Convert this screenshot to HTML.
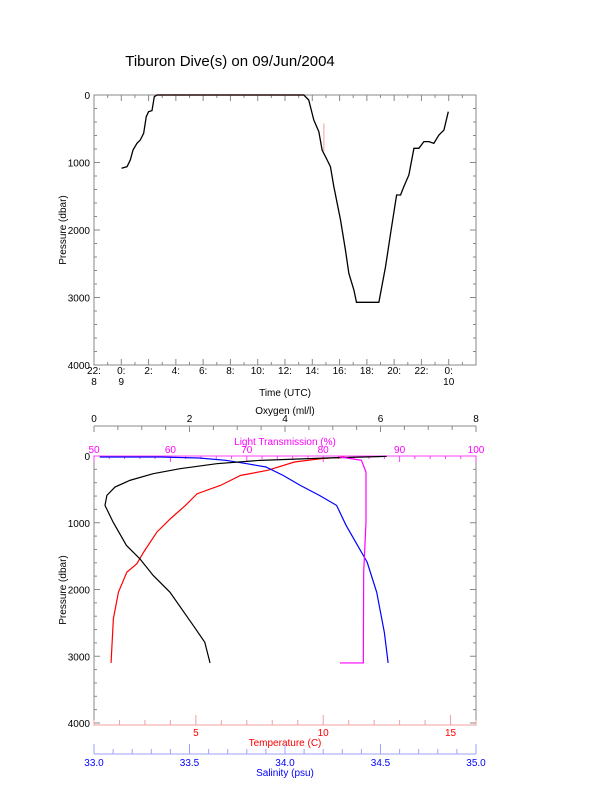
<!DOCTYPE html>
<html><head><meta charset="utf-8"><style>
body{margin:0;background:#fff}
svg text{font-family:"Liberation Sans",sans-serif}
</style></head><body>
<svg id="c" width="612" height="785" xmlns="http://www.w3.org/2000/svg">
<text x="230" y="66" font-size="15" text-anchor="middle">Tiburon Dive(s) on 09/Jun/2004</text>
</svg>
<script>
// ---- data: dive time series (hours since 09 Jun 00:00 UTC, pressure dbar)
const diveHours=[0.02,0.42,0.66,0.86,1.15,1.39,1.64,1.83,2.0,2.25,2.42,2.62,13.38,13.74,14.11,14.48,14.72,15.09,15.33,15.58,16.07,16.43,16.68,17.05,17.24,18.88,19.37,19.74,20.18,20.47,20.71,21.08,21.45,21.81,22.18,22.55,22.91,23.28,23.65,23.97];
const divePressure=[1086,1062,963,815,716,667,568,321,247,232,25,0,0,74,370,543,815,963,1062,1358,1852,2296,2642,2889,3071,3071,2543,2049,1481,1481,1358,1185,790,790,691,691,716,593,519,247];
const timeTickHours=[-2,0,2,4,6,8,10,12,14,16,18,20,22,24];
const timeTickLabels=["22:","0:","2:","4:","6:","8:","10:","12:","14:","16:","18:","20:","22:","0:"];
const timeTickDays=["8","9","","","","","","","","","","","","10"];
const pressureTicks=[0,1000,2000,3000,4000];
// ---- profile data
const tempP=[3100,2440,2040,1740,1615,1440,1140,940,740,565,440,290,215,90,40,15];
const tempV=[1.67,1.76,1.96,2.29,2.68,2.95,3.47,4.0,4.59,5.05,5.97,6.76,7.82,8.87,9.92,10.84];
const salP=[3100,2640,2040,1590,1340,1040,740,590,440,290,165,115,65,30,15,15];
const salV=[34.54,34.52,34.48,34.43,34.38,34.32,34.27,34.18,34.08,33.99,33.90,33.80,33.69,33.55,33.35,33.03];
const oxyP=[3100,2790,2540,2040,1790,1540,1340,990,740,590,465,365,265,190,115,65,30,5];
const oxyV=[2.43,2.32,2.08,1.59,1.24,0.96,0.68,0.40,0.23,0.27,0.44,0.75,1.24,1.80,2.57,3.48,4.87,6.13];
const lightP=[3100,3100,1740,990,240,65,15];
const lightV=[82.2,85.25,85.3,85.6,85.6,85.0,82.2];
const oxyTicks=[0,2,4,6,8];
const lightTicks=[50,60,70,80,90,100];
const tempTicks=[5,10,15];
const salTicks=[33.0,33.5,34.0,34.5,35.0];

const svg=document.getElementById('c');
const NS="http://www.w3.org/2000/svg";
function el(tag,attrs,parent){const e=document.createElementNS(NS,tag);for(const k in attrs)e.setAttribute(k,attrs[k]);(parent||svg).appendChild(e);return e;}
function txt(x,y,s,size,color,anchor,parent){const t=el('text',{x:x,y:y,'font-size':size,fill:color,'text-anchor':anchor||'middle'},parent);t.textContent=s;return t;}

const L=94,R=476;
// ---------- top chart
const T0=95,T1=365;
const xT=h=>L+(h+2)*(R-L)/28;
const yT=p=>T0+p*(T1-T0)/4000;
const topPanel=el('g',{});


const f1=el('rect',{x:L,y:T0,width:R-L,height:T1-T0,fill:'none',stroke:'#888','stroke-width':1},topPanel);


for(let p=0;p<=4000;p+=200){const len=p%1000===0?6:3;el('line',{x1:L,x2:L+len,y1:yT(p),y2:yT(p),stroke:'#888'},topPanel);el('line',{x1:R,x2:R-len,y1:yT(p),y2:yT(p),stroke:'#888'},topPanel);}
pressureTicks.forEach(p=>{const t=txt(L-4,yT(p)+4,String(p),10,'#000','end',topPanel);});
for(let h=-2;h<=26;h+=1){const len=h%2===0?6:3;el('line',{x1:xT(h),x2:xT(h),y1:T1,y2:T1-len,stroke:'#888'},topPanel);el('line',{x1:xT(h),x2:xT(h),y1:T0,y2:T0+len,stroke:'#888'},topPanel);}
timeTickHours.forEach((h,i)=>{const t=txt(xT(h),374,timeTickLabels[i],10,'#000','middle',topPanel);if(timeTickDays[i]){const d=txt(xT(h),385,timeTickDays[i],10,'#000','middle',topPanel);}});
const xt1=txt(285,396,'Time (UTC)',10,'#000','middle',topPanel);


const yt1=txt(0,0,'Pressure (dbar)',10,'#000','middle',topPanel);
yt1.setAttribute('transform','translate(66,230) rotate(-90)');


const surf=el('line',{x1:xT(2.62),x2:xT(13.38),y1:yT(0),y2:yT(0),stroke:'#f08080','stroke-width':1.5},topPanel);


const spike=el('line',{x1:xT(14.85),x2:xT(14.85),y1:yT(420),y2:yT(830),stroke:'#f0a0a0'},topPanel);


const dl=el('polyline',{points:diveHours.map((h,i)=>xT(h)+','+yT(divePressure[i])).join(' '),fill:'none',stroke:'#000','stroke-width':1.3},topPanel);



// ---------- bottom chart
const B0=456,B1=723;
const yB=p=>B0+p*(B1-B0)/4000;
const xTemp=t=>L+(t-1)*(R-L)/15;
const xSal=s=>L+(s-33)*(R-L)/2;
const xOxy=o=>L+o*(R-L)/8;
const xLight=l=>L+(l-50)*(R-L)/50;
const botPanel=el('g',{});


const f2=el('rect',{x:L,y:B0,width:R-L,height:725-B0,fill:'none',stroke:'#888'},botPanel);


for(let p=0;p<=4000;p+=200){const len=p%1000===0?6:3;el('line',{x1:L,x2:L+len,y1:yB(p),y2:yB(p),stroke:'#888'},botPanel);el('line',{x1:R,x2:R-len,y1:yB(p),y2:yB(p),stroke:'#888'},botPanel);}
pressureTicks.forEach(p=>{const t=txt(L-4,yB(p)+4,String(p),10,'#000','end',botPanel);});
const yt2=txt(0,0,'Pressure (dbar)',10,'#000','middle',botPanel);
yt2.setAttribute('transform','translate(66,590) rotate(-90)');


// oxygen axis
el('line',{x1:L,x2:R,y1:426,y2:426,stroke:'#888'},botPanel);
for(let o=0;o<=8;o+=0.5)el('line',{x1:xOxy(o),x2:xOxy(o),y1:426,y2:o%2===0?432:430,stroke:'#888'},botPanel);
oxyTicks.forEach(o=>{const t=txt(xOxy(o),422,String(o),10,'#000','middle',botPanel);});
const ot=txt(285,414,'Oxygen (ml/l)',10,'#000','middle',botPanel);


// light transmission axis
el('line',{x1:L,x2:R,y1:B0,y2:B0,stroke:'#ff40ff'},botPanel);
for(let l=50;l<=100;l+=2)el('line',{x1:xLight(l),x2:xLight(l),y1:B0,y2:B0+(l%10===0?6:3),stroke:'#ff40ff'},botPanel);
lightTicks.forEach(l=>{const t=txt(xLight(l),453,String(l),10,'#ff00ff','middle',botPanel);});
const lt=txt(285,445,'Light Transmission (%)',10,'#ff00ff','middle',botPanel);


// temperature axis
el('line',{x1:L,x2:R,y1:725,y2:725,stroke:'#f0a0a0'},botPanel);
for(let t=1;t<=16;t+=1)el('line',{x1:xTemp(t),x2:xTemp(t),y1:725,y2:t%5===0?715:720,stroke:'#f0a0a0'},botPanel);
tempTicks.forEach(v=>{const t=txt(xTemp(v),736,String(v),10,'#ff0000','middle',botPanel);});
const tt=txt(285,746,'Temperature (C)',10,'#ff0000','middle',botPanel);


// salinity axis
el('line',{x1:L,x2:R,y1:754,y2:754,stroke:'#a0a0ff'},botPanel);
for(let s=0;s<=20;s++)el('line',{x1:xSal(33+s*0.1),x2:xSal(33+s*0.1),y1:754,y2:s%5===0?744:749,stroke:'#a0a0ff'},botPanel);
salTicks.forEach(s=>{const t=txt(xSal(s),766,s.toFixed(1),10,'#0000ff','middle',botPanel);});
const st=txt(285,776,'Salinity (psu)',10,'#0000ff','middle',botPanel);


// series
const tl=el('polyline',{points:tempV.map((v,i)=>xTemp(v)+','+yB(tempP[i])).join(' '),fill:'none',stroke:'#ff0000','stroke-width':1.2},botPanel);


const sl=el('polyline',{points:salV.map((v,i)=>xSal(v)+','+yB(salP[i])).join(' '),fill:'none',stroke:'#0000ff','stroke-width':1.2},botPanel);


const ol=el('polyline',{points:oxyV.map((v,i)=>xOxy(v)+','+yB(oxyP[i])).join(' '),fill:'none',stroke:'#000','stroke-width':1.2},botPanel);


const ll=el('polyline',{points:lightV.map((v,i)=>xLight(v)+','+yB(lightP[i])).join(' '),fill:'none',stroke:'#ff00ff','stroke-width':1.2},botPanel);


</script>
</body></html>
